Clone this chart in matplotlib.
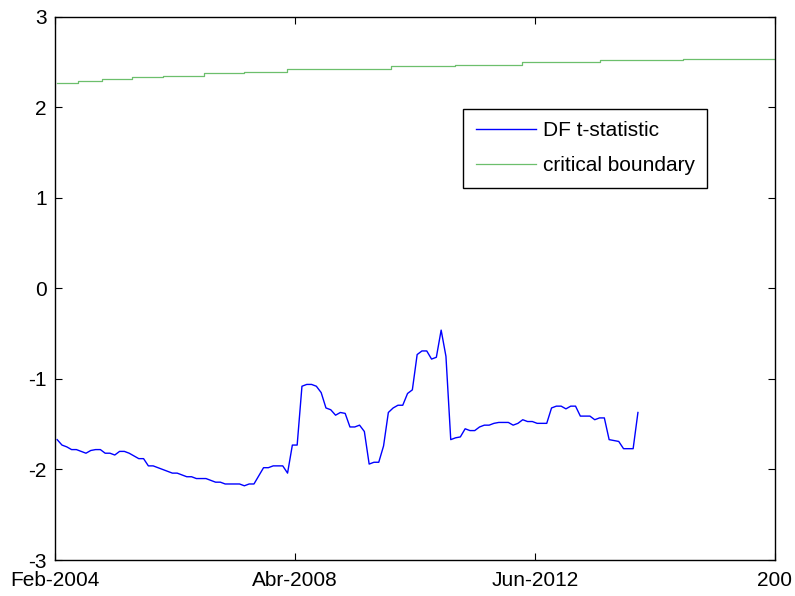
import numpy as np
import matplotlib
matplotlib.use("Agg")
import matplotlib.pyplot as plt

# DF t-statistic, one value per month starting Feb-2004
df_stat = [-1.67, -1.73, -1.75, -1.78, -1.78, -1.80, -1.82, -1.79, -1.78, -1.78,
           -1.82, -1.82, -1.84, -1.80, -1.80, -1.82, -1.85, -1.88, -1.88, -1.96,
           -1.96, -1.98, -2.00, -2.02, -2.04, -2.04, -2.06, -2.08, -2.08, -2.10,
           -2.10, -2.10, -2.12, -2.14, -2.14, -2.16, -2.16, -2.16, -2.16, -2.18,
           -2.16, -2.16, -2.07, -1.98, -1.98, -1.96, -1.96, -1.96, -2.04, -1.73,
           -1.73, -1.08, -1.06, -1.06, -1.08, -1.15, -1.32, -1.34, -1.40, -1.37,
           -1.38, -1.53, -1.53, -1.51, -1.58, -1.94, -1.92, -1.92, -1.74, -1.37,
           -1.32, -1.29, -1.29, -1.16, -1.12, -0.73, -0.69, -0.69, -0.78, -0.76,
           -0.46, -0.75, -1.67, -1.65, -1.64, -1.55, -1.57, -1.57, -1.53, -1.51,
           -1.51, -1.49, -1.48, -1.48, -1.48, -1.51, -1.49, -1.45, -1.47, -1.47,
           -1.49, -1.49, -1.49, -1.32, -1.30, -1.30, -1.33, -1.30, -1.30, -1.41,
           -1.41, -1.41, -1.45, -1.43, -1.43, -1.67, -1.68, -1.69, -1.77, -1.77,
           -1.77, -1.37]

# critical boundary: month where each level starts, and the level
cv_start = [0.45, 4.8, 9.8, 16.1, 22.5, 31.0, 39.4, 48.3, 58.1, 70.0,
            83.3, 97.2, 113.5, 130.8, 152.0]
cv_level = [2.27, 2.29, 2.31, 2.34, 2.35, 2.38, 2.39, 2.42, 2.43, 2.46,
            2.47, 2.50, 2.52, 2.54, 2.54]

tick_pos = [0, 50, 100, 150]
tick_lab = ['Feb-2004', 'Abr-2008', 'Jun-2012', '200']

plt.rcParams['font.family'] = ['Liberation Sans', 'DejaVu Sans']
plt.rcParams['axes.unicode_minus'] = False

fig = plt.figure(figsize=(7.95, 5.96), dpi=100)
ax = fig.add_axes([0.0692, 0.0604, 0.9056, 0.9111])

t = np.arange(len(df_stat)) + 0.45
ax.plot(t, df_stat, color=(0, 0, 1), lw=1.0, label='DF t-statistic')
ax.plot(cv_start, cv_level, color='#6cbf6c', lw=0.9, drawstyle='steps-post',
        label='critical boundary')

ax.set_xlim(0, 150)
ax.set_ylim(-3, 3)
ax.set_xticks(tick_pos)
ax.set_xticklabels(tick_lab)
ax.set_yticks(range(-3, 4))
ax.tick_params(direction='in', length=5, width=0.8, top=True, right=True,
               labelsize=15)
ax.tick_params(axis='x', pad=8)
ax.tick_params(axis='y', pad=6)
for sp in ax.spines.values():
    sp.set_linewidth(1.0)

leg = ax.legend(loc='upper right', bbox_to_anchor=(0.9056, 0.8306),
                borderaxespad=0, fontsize=15, fancybox=False, framealpha=1,
                edgecolor='black', handlelength=2.9, handletextpad=0.3,
                borderpad=0.6, labelspacing=0.75)
leg.get_frame().set_linewidth(1.0)

fig.savefig('out.png', dpi=100)
